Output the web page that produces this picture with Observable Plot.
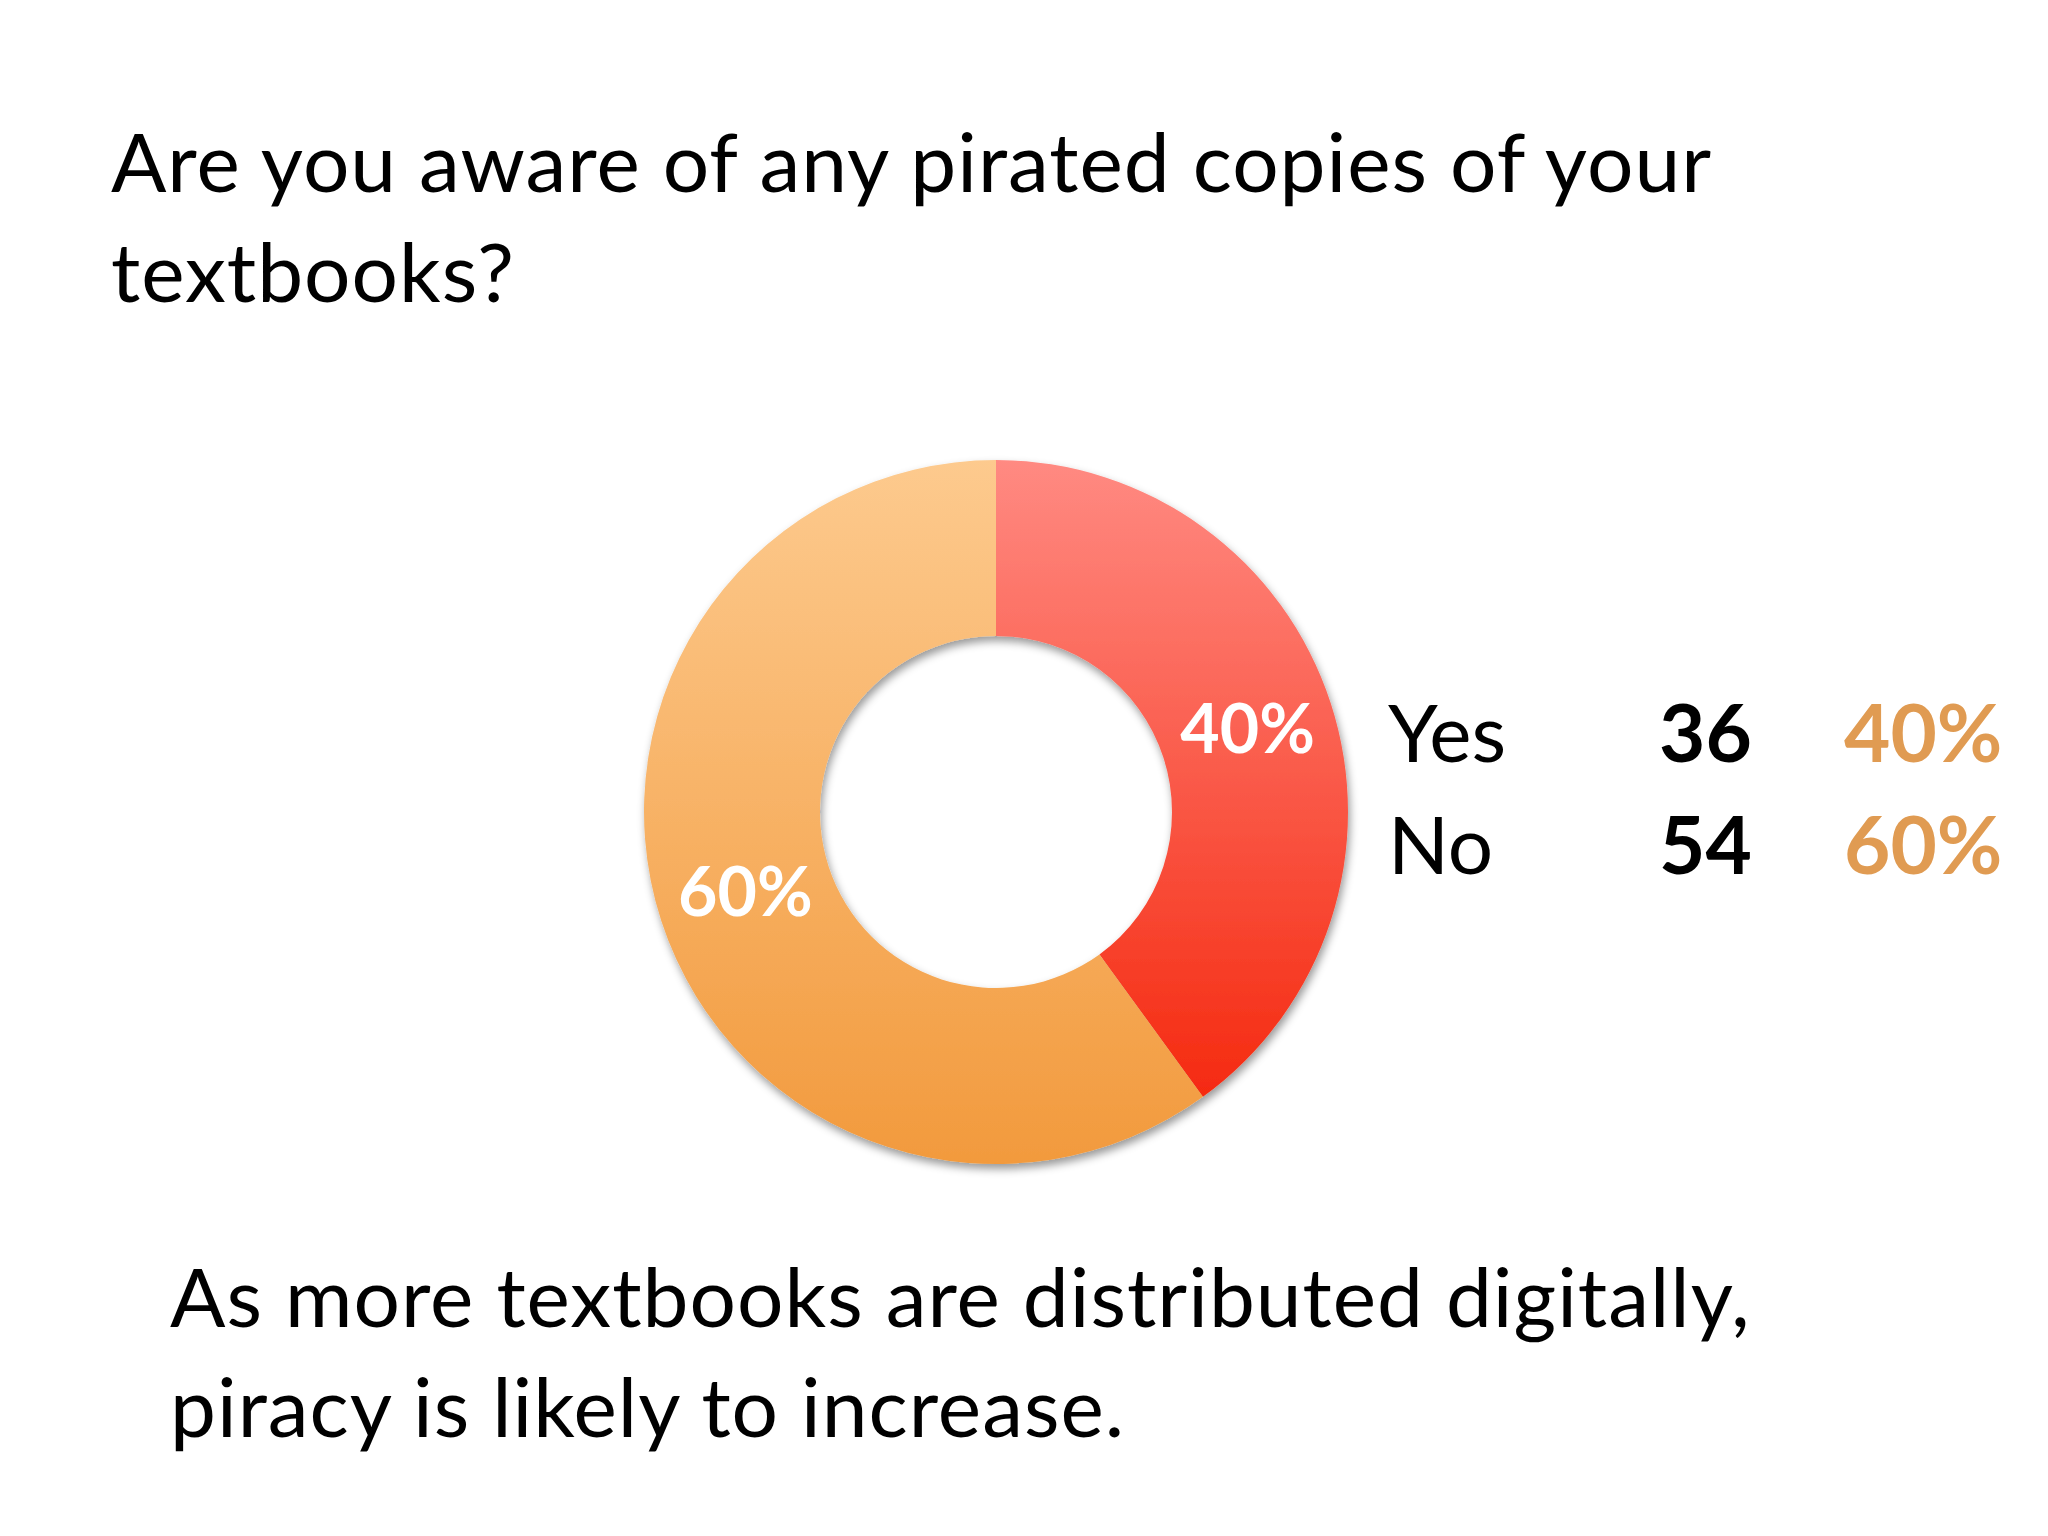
<!DOCTYPE html>
<html>
<head>
<meta charset="utf-8">
<script src="https://cdn.jsdelivr.net/npm/d3@7"></script>
<script src="https://cdn.jsdelivr.net/npm/@observablehq/plot@0.6"></script>
<style>
html,body{margin:0;padding:0;background:#fff;}
body{width:2048px;height:1536px;position:relative;overflow:hidden;font-family:Lato,"Open Sans",sans-serif;color:#000;}
#title{position:absolute;left:111px;top:105px;font-size:82px;letter-spacing:1px;line-height:110px;white-space:nowrap;}
#caption{position:absolute;left:170px;top:1240px;font-size:82px;letter-spacing:1px;line-height:110px;white-space:nowrap;}
#chart{position:absolute;left:0;top:400px;}
#legend{position:absolute;left:0;top:675px;font-size:80px;line-height:112px;}
.row{position:relative;height:112px;width:2048px;}
.row span{position:absolute;top:0;white-space:nowrap;}
.lab{left:1388px;}
.cnt{left:1659px;font-weight:bold;}
.pct{left:1844px;font-weight:bold;color:#E09B52;}
</style>
</head>
<body>
<div id="title"></div>
<div id="chart"></div>
<div id="legend"></div>
<div id="caption"></div>
<script>
// ---- data ----
const categories = ["Yes", "No"];
const counts = [36, 54];
const titleLines = ["Are you aware of any pirated copies of your", "textbooks?"];
const captionLines = ["As more textbooks are distributed digitally,", "piracy is likely to increase."];

// ---- styles ----
const gradients = {
  Yes: ["#FF8A82", "#F52A10"],
  No: ["#FDCA8E", "#F29A3D"]
};
const innerRatio = 0.5;

const total = d3.sum(counts);
const fmt = d3.format(".0%");
const data = categories.map((c, i) => ({category: c, count: counts[i], share: counts[i] / total}));
const pie = d3.pie().sort(null).value(d => d.count).startAngle(0)(data);
const rMid = (1 + innerRatio) / 2;
const labels = pie.map(a => {
  const m = (a.startAngle + a.endAngle) / 2;
  return {x: Math.sin(m) * rMid, y: Math.cos(m) * rMid, text: fmt(a.data.share)};
});

document.getElementById("title").innerHTML = titleLines.join("<br>");
document.getElementById("caption").innerHTML = captionLines.join("<br>");
const legend = document.getElementById("legend");
data.forEach(d => {
  const row = document.createElement("div");
  row.className = "row";
  row.innerHTML = `<span class="lab">${d.category}</span><span class="cnt">${d.count}</span><span class="pct">${fmt(d.share)}</span>`;
  legend.appendChild(row);
});

function donut(index, scales) {
  const {x, y} = scales;
  const cx = x(0), cy = y(0);
  const R = x(1) - x(0);
  const arc = d3.arc().innerRadius(R * innerRatio).outerRadius(R);
  const g = d3.create("svg:g");
  const defs = g.append("defs");
  for (const d of data) {
    const [c0, c1] = gradients[d.category];
    const lg = defs.append("linearGradient").attr("id", "grad-" + d.category)
      .attr("x1", 0).attr("y1", 0).attr("x2", 0).attr("y2", 1);
    lg.append("stop").attr("offset", "0%").attr("stop-color", c0);
    lg.append("stop").attr("offset", "100%").attr("stop-color", c1);
  }
  const f = defs.append("filter").attr("id", "dshadow")
    .attr("x", "-10%").attr("y", "-10%").attr("width", "120%").attr("height", "125%");
  f.append("feDropShadow").attr("dx", 2).attr("dy", 5).attr("stdDeviation", 4)
    .attr("flood-color", "#000").attr("flood-opacity", 0.4);
  g.append("g").attr("transform", `translate(${cx},${cy})`).attr("filter", "url(#dshadow)")
    .selectAll("path").data(pie).join("path")
    .attr("d", arc)
    .attr("fill", a => `url(#grad-${a.data.category})`);
  return g.node();
}

const chart = Plot.plot({
  width: 2048,
  height: 830,
  marginLeft: 644,
  marginRight: 700,
  marginTop: 60,
  marginBottom: 66,
  x: {domain: [-1, 1], axis: null},
  y: {domain: [-1, 1], axis: null},
  style: {fontFamily: "Lato, 'Open Sans', sans-serif", background: "transparent", overflow: "visible"},
  marks: [
    donut,
    Plot.text(labels, {x: "x", y: "y", text: "text", fill: "white", fontWeight: "bold", fontSize: 68, textAnchor: "middle", lineAnchor: "middle"})
  ]
});
document.getElementById("chart").appendChild(chart);
</script>
</body>
</html>
